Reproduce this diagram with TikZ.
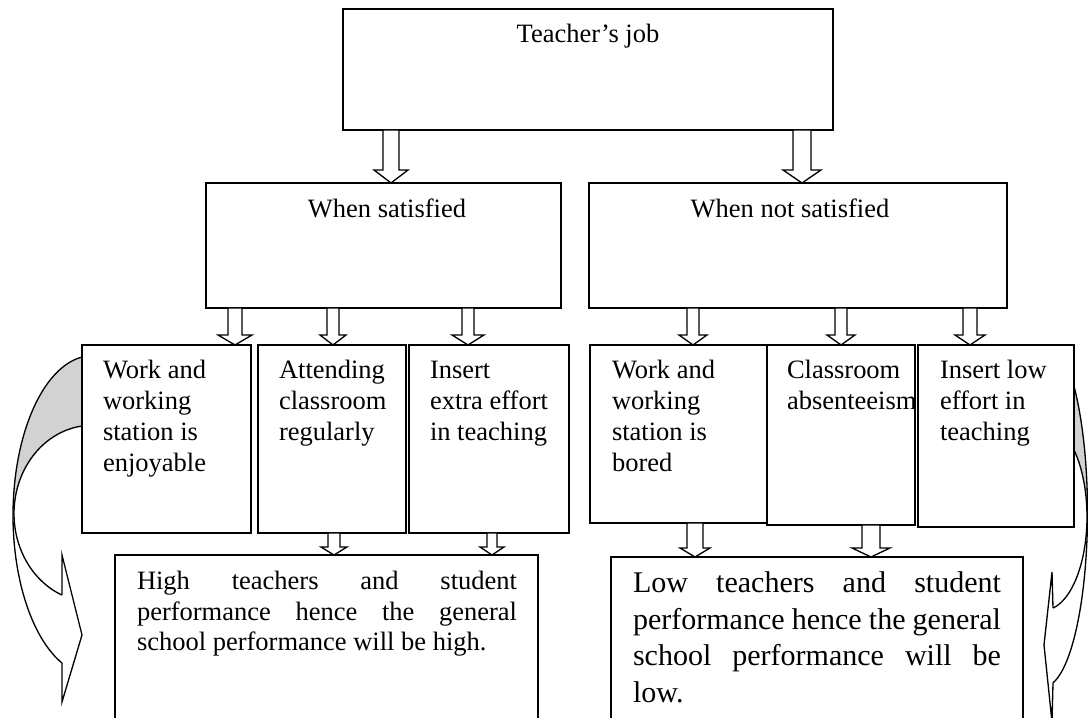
\documentclass[tikz,border=0pt]{standalone}
\usepackage{fontspec}
\setmainfont{Liberation Serif}
\usetikzlibrary{calc}
\newdimen\pxu \pxu=0.4529pt
\tikzset{
  box/.style={draw, line width=0.7pt, fill=white, inner sep=0pt, outer sep=0pt, anchor=north west},
  txt/.style={inner sep=0pt, outer sep=0pt, font=\fontsize{12}{14}\selectfont, anchor=base west},
  ctxt/.style={inner sep=0pt, outer sep=0pt, font=\fontsize{12}{14}\selectfont, anchor=base},
  blockarrow/.style={draw, fill=white, line width=0.6pt, line join=miter},
  curvearrow/.style={draw, line width=0.6pt, line join=miter},
  backside/.style={fill=gray!35},
}
\newcommand\bx[5]{\node[box, minimum width={(#4-#2)*\pxu}, minimum height={(#5-#3)*\pxu}] (#1) at (#2,#3) {};}
\newcommand\blk[6]{%
  \draw[blockarrow] (#1-#4,0 |- #2.south)
    -- ($(#1-#4,0 |- #3.north)+(0,-#6)$)
    -- ($(#1-#5,0 |- #3.north)+(0,-#6)$)
    -- (#1,0 |- #3.north)
    -- ($(#1+#5,0 |- #3.north)+(0,-#6)$)
    -- ($(#1+#4,0 |- #3.north)+(0,-#6)$)
    -- (#1+#4,0 |- #2.south) -- cycle;}
\begin{document}
\begin{tikzpicture}[x=\pxu, y=-\pxu]
\useasboundingbox (0,0) rectangle (1088,718);

% left curved arrow
\fill[backside] plot[domain=7.27:90, samples=40] ({92-79*sin(\x)}, {515.4-159.6*cos(\x)})
  -- plot[domain=7.37:90, samples=40] ({92-78*sin(97.37-\x)}, {513.6-88.3*cos(97.37-\x)}) -- cycle;
\draw[curvearrow] plot[domain=7.27:157.7, samples=90] ({92-79*sin(\x)}, {515.4-159.6*cos(\x)});
\draw[curvearrow] plot[domain=7.37:157.4, samples=90] ({92-78*sin(\x)}, {513.6-88.3*cos(\x)});
\coordinate (lh1) at (62,595); \coordinate (lh2) at (62,555); \coordinate (lh3) at (82,635);
\coordinate (lh4) at (62,702); \coordinate (lh5) at (62,663);
\draw[curvearrow] (lh1) -- (lh2) -- (lh3) -- (lh4) -- (lh5);

% right curved arrow
\fill[backside] plot[domain=43:90, samples=40] ({1044+43.5*sin(\x)}, {512.4-174.2*cos(\x)})
  -- plot[domain=44.2:90, samples=40] ({1044+43*sin(134.2-\x)}, {516.8-93.3*cos(134.2-\x)}) -- cycle;
\draw[curvearrow] plot[domain=43:168.2, samples=90] ({1044+43.5*sin(\x)}, {512.4-174.2*cos(\x)});
\draw[curvearrow] plot[domain=44.2:167.9, samples=90] ({1044+43*sin(\x)}, {516.8-93.3*cos(\x)});
\coordinate (rh1) at (1053,608); \coordinate (rh2) at (1052,572); \coordinate (rh3) at (1044,645);
\coordinate (rh4) at (1052,722); \coordinate (rh5) at (1053,683);
\draw[curvearrow] (rh1) -- (rh2) -- (rh3) -- (rh4) -- (rh5);

% boxes
\bx{top}{343}{9}{833}{130}
\bx{sat}{206}{183}{561}{308}
\bx{nsat}{589}{183}{1007}{308}
\bx{w1}{82}{345}{251}{533}
\bx{w2}{258}{345}{406}{533}
\bx{w3}{409}{345}{569}{533}
\bx{w4}{590}{345}{767}{523}
\bx{w5}{767}{345}{915}{525}
\bx{w6}{918}{345}{1074}{527}
\bx{b1}{115}{555}{538}{745}
\bx{b2}{611}{557}{1023}{745}

% texts
\node[ctxt] (topt) at (588,43) {Teacher’s job};
\node[ctxt] (satt) at (387,218) {When satisfied};
\node[ctxt] (nsatt) at (790,218) {When not satisfied};
\node[txt] (w1t) at (103,379) {\parbox[t]{200pt}{Work and\\working\\station is\\enjoyable}};
\node[txt] (w2t) at (279,379) {\parbox[t]{200pt}{Attending\\classroom\\regularly}};
\node[txt] (w3t) at (430,379) {\parbox[t]{200pt}{Insert\\extra effort\\in teaching}};
\node[txt] (w4t) at (612,379) {\parbox[t]{200pt}{Work and\\working\\station is\\bored}};
\node[txt] (w5t) at (787,379) {\parbox[t]{200pt}{Classroom\\absenteeism}};
\node[txt] (w6t) at (940,379) {\parbox[t]{200pt}{Insert low\\effort in\\teaching}};
\node[txt, font=\fontsize{12}{13.7}\selectfont] (b1t) at (137,590) {\parbox[t]{380\pxu}{%
  \makebox[\linewidth][s]{High teachers and student}\\
  \makebox[\linewidth][s]{performance hence the general}\\
  school performance will be high.}};
\node[txt, font=\fontsize{13.6}{16.5}\selectfont] (b2t) at (633,593) {\parbox[t]{368\pxu}{%
  \makebox[\linewidth][s]{Low teachers and student}\\
  \makebox[\linewidth][s]{performance hence the general}\\
  \makebox[\linewidth][s]{school performance will be}\\
  low.}};

% block arrows
\blk{391}{top}{sat}{8}{17}{13}
\blk{802}{top}{nsat}{9}{19}{13}
\blk{235}{sat}{w1}{7}{17}{10}
\blk{333}{sat}{w2}{6}{13}{10}
\blk{468}{sat}{w3}{6}{16}{10}
\blk{693}{nsat}{w4}{6}{14}{10}
\blk{841}{nsat}{w5}{6}{14}{10}
\blk{970}{nsat}{w6}{7}{15}{10}
\blk{334}{w2}{b1}{6}{13}{8}
\blk{492}{w3}{b1}{5}{12}{8}
\blk{695}{w4}{b2}{8}{15}{9}
\blk{871}{w5}{b2}{9}{19}{9}
\end{tikzpicture}
\end{document}
